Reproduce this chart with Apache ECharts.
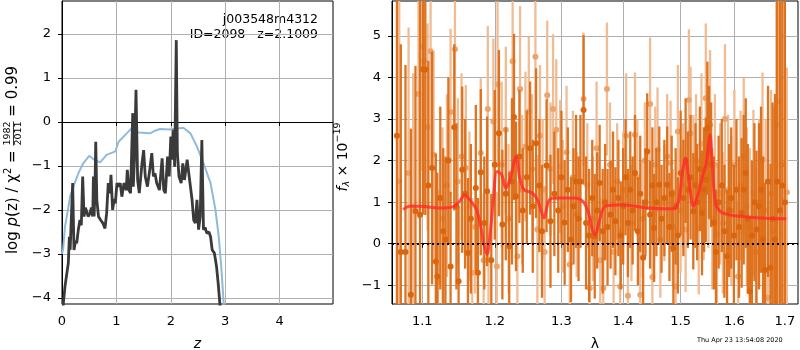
<!DOCTYPE html>
<html>
<head>
<meta charset="utf-8">
<script src="https://cdn.jsdelivr.net/npm/echarts@6/dist/echarts.min.js"></script>
<style>
  html, body { margin: 0; padding: 0; background: #fff; }
  #main { width: 800px; height: 350px; }
</style>
</head>
<body>
<div id="main"></div>
<script>
// ---- left panel: log p(z) ----
var zDark = [0.01, 0.025, 0.055, 0.116, 0.135, 0.15, 0.196, 0.22, 0.25, 0.27, 0.30, 0.33, 0.355, 0.38, 0.405, 0.43, 0.455, 0.48, 0.515, 0.54, 0.565, 0.577, 0.59, 0.605, 0.62, 0.64, 0.67, 0.71, 0.75, 0.79, 0.82, 0.85, 0.88, 0.90, 0.93, 0.96, 0.98, 1.01, 1.04, 1.07, 1.10, 1.14, 1.18, 1.20, 1.23, 1.26, 1.30, 1.31, 1.33, 1.36, 1.39, 1.42, 1.47, 1.50, 1.53, 1.57, 1.62, 1.65, 1.68, 1.71, 1.74, 1.79, 1.84, 1.87, 1.90, 1.94, 1.97, 2.00, 2.02, 2.05, 2.07, 2.10, 2.12, 2.15, 2.19, 2.22, 2.25, 2.30, 2.33, 2.36, 2.39, 2.42, 2.45, 2.48, 2.51, 2.54, 2.57, 2.60, 2.63, 2.66, 2.70, 2.73, 2.76, 2.80, 2.84, 2.87, 2.90, 2.93];
var pDark = [-4.4, -4.12, -3.74, -3.21, -2.61, -2.91, -1.39, -2.91, -2.7, -2.76, -2.45, -2.23, -2.35, -1.24, -2.15, -1.95, -2.04, -2.15, -2.08, -1.95, -2.15, -1.24, -2.15, -1.6, -0.45, -1.77, -2.15, -2.23, -2.3, -2.42, -2.08, -1.39, -1.62, -1.2, -2.0, -1.75, -1.85, -1.39, -1.47, -1.39, -1.70, -1.39, -1.55, -1.09, -1.55, -1.62, 0.20, -1.47, -0.88, 0.73, -1.32, -1.62, -0.94, -0.64, -1.24, -1.47, -1.02, -0.71, -1.24, -1.17, -1.39, -1.55, -0.83, -1.55, -1.62, -0.79, -1.24, -0.33, -0.86, -0.18, -1.02, 1.86, -0.71, -1.24, -1.39, -0.94, -1.32, -0.86, -1.17, -1.17, -1.77, -2.23, -2.30, -1.77, -2.45, -2.15, -0.41, -2.45, -2.4, -2.53, -2.5, -2.61, -2.91, -2.98, -3.29, -3.67, -4.12, -4.6];
var zBlue = [0.0, 0.02, 0.055, 0.12, 0.147, 0.21, 0.30, 0.39, 0.50, 0.58, 0.70, 0.82, 0.98, 1.04, 1.19, 1.28, 1.41, 1.62, 1.71, 1.80, 1.99, 2.23, 2.36, 2.48, 2.60, 2.73, 2.82, 2.88, 2.93, 2.97, 2.99];
var pBlue = [-3.0, -2.9, -2.38, -1.92, -1.70, -1.47, -1.17, -0.94, -0.77, -0.85, -0.92, -0.75, -0.67, -0.45, -0.26, -0.14, -0.24, -0.26, -0.20, -0.16, -0.17, -0.13, -0.26, -0.56, -0.94, -1.39, -2.0, -2.6, -3.36, -4.1, -4.5];
var zTicks = [0, 1, 2, 3, 4];
var pTicks = [-4, -3, -2, -1, 0, 1, 2];

// ---- right panel: spectrum ----
var lamTicks = [1.1, 1.2, 1.3, 1.4, 1.5, 1.6, 1.7];
var fTicks = [-1, 0, 1, 2, 3, 4, 5];

var lamD = [1.067, 1.072, 1.078, 1.085, 1.091, 1.097, 1.101, 1.104, 1.108, 1.113, 1.118, 1.12, 1.124, 1.128, 1.131, 1.135, 1.138, 1.143, 1.146, 1.149, 1.154, 1.158, 1.162, 1.166, 1.173, 1.176, 1.18, 1.185, 1.189, 1.195, 1.2, 1.206, 1.211, 1.216, 1.221, 1.225, 1.228, 1.231, 1.236, 1.241, 1.247, 1.252, 1.256, 1.261, 1.266, 1.27, 1.277, 1.283, 1.289, 1.295, 1.3, 1.305, 1.31, 1.315, 1.319, 1.323, 1.327, 1.33, 1.335, 1.339, 1.344, 1.349, 1.353, 1.357, 1.361, 1.366, 1.37, 1.374, 1.379, 1.383, 1.387, 1.392, 1.396, 1.4, 1.404, 1.408, 1.412, 1.416, 1.42, 1.425, 1.429, 1.434, 1.438, 1.441, 1.446, 1.45, 1.453, 1.457, 1.462, 1.466, 1.471, 1.476, 1.48, 1.484, 1.487, 1.491, 1.495, 1.5, 1.505, 1.509, 1.513, 1.518, 1.523, 1.527, 1.53, 1.535, 1.539, 1.543, 1.546, 1.549, 1.552, 1.556, 1.561, 1.565, 1.57, 1.576, 1.581, 1.586, 1.59, 1.594, 1.599, 1.604, 1.609, 1.614, 1.618, 1.622, 1.626, 1.63, 1.634, 1.639, 1.643, 1.648, 1.652, 1.656, 1.66, 1.666, 1.671, 1.675, 1.68, 1.684, 1.69, 1.695, 1.7];
var fluxD = [2.6, -0.2, -0.2, -1.23, 0.78, 0.7, 4.2, 4.19, 1.4, 1.82, -0.43, -0.79, 1.1, 0.3, 0.1, 2.0, -0.55, 2.8, 0.9, -0.9, 1.78, 1.2, -0.22, 0.6, 1.34, -0.7, 1.72, 0.5, 1.26, -0.4, 1.9, 2.66, 0.46, 1.2, -0.06, 1.5, 3.05, 1.14, 2.1, 0.8, 1.6, 2.3, 0.9, 2.42, 1.4, 0.3, 1.88, 0.54, 1.2, 0.8, 1.6, 0.51, 1.3, 0.1, 0.9, 1.5, 0.6, 1.5, 3.22, 0.5, 0.2, 1.1, 0.18, 0.8, 1.46, 0.3, 1.0, 0.4, 0.7, 1.3, 0.54, 1.1, 0.2, 0.9, 1.6, 0.5, 1.3, 0.8, 1.7, 0.3, 1.2, -0.34, 1.0, 2.22, 0.7, 1.4, 0.38, 1.0, 1.42, 0.6, 1.1, 1.42, 0.4, 1.2, -0.1, 0.9, 0.2, 1.7, 1.1, 2.0, 1.3, 1.6, 0.78, 1.4, 1.0, 1.8, 0.74, 1.3, 1.54, 2.78, 2.2, 1.9, 0.5, -0.2, 1.0, 1.4, 0.3, -0.3, 0.8, 1.1, 0.2, 1.3, 0.4, 0.74, 1.3, 1.7, 0.6, -1.15, 0.2, 1.0, 0.34, 0.9, 1.3, 0.1, -0.63, 1.5, -0.58, 0.6, 0.1, 1.5, 0.8, 1.4, 1.0];
var errD = [5, 5, 4.5, 4, 3.5, 6, 3.5, 3.5, 3, 2.8, 2.6, 2.5, 2.2, 2, 2, 2, 1.8, 2, 2, 1.8, 2, 1.8, 1.8, 1.8, 2, 1.8, 2, 1.6, 1.8, 1.6, 1.8, 2, 1.8, 1.6, 1.8, 2, 2, 1.8, 1.6, 1.5, 1.6, 1.6, 1.6, 1.8, 1.6, 1.6, 1.6, 1.6, 1.5, 1.5, 1.6, 1.5, 1.5, 1.5, 1.4, 1.6, 1.5, 1.6, 1.8, 1.6, 1.6, 1.4, 1.5, 1.4, 1.4, 1.5, 1.4, 1.4, 1.3, 1.4, 1.3, 1.4, 1.3, 1.4, 1.4, 1.3, 1.4, 1.3, 1.4, 1.3, 1.4, 1.4, 1.3, 1.4, 1.3, 1.4, 1.3, 1.3, 1.4, 1.3, 1.4, 1.4, 1.3, 1.4, 1.4, 1.4, 1.4, 1.5, 1.4, 1.5, 1.4, 1.5, 1.4, 1.5, 1.4, 1.5, 1.5, 1.5, 1.5, 1.6, 1.6, 1.5, 1.6, 1.5, 1.6, 1.6, 1.6, 1.6, 1.6, 1.7, 1.7, 1.7, 1.7, 1.8, 1.8, 1.8, 1.8, 1.8, 1.8, 1.9, 1.9, 2, 2, 2, 2.1, 2.3, 2.5, 2.8, 3.5, 6, 7, 6, 7];

var lamL = [1.07, 1.082, 1.088, 1.095, 1.1, 1.102, 1.107, 1.111, 1.115, 1.121, 1.127, 1.133, 1.138, 1.144, 1.148, 1.153, 1.159, 1.164, 1.168, 1.172, 1.18, 1.184, 1.19, 1.191, 1.198, 1.203, 1.204, 1.21, 1.216, 1.22, 1.226, 1.233, 1.237, 1.24, 1.245, 1.25, 1.255, 1.26, 1.263, 1.267, 1.271, 1.274, 1.278, 1.283, 1.287, 1.292, 1.298, 1.302, 1.308, 1.313, 1.318, 1.324, 1.335, 1.341, 1.345, 1.35, 1.356, 1.362, 1.367, 1.373, 1.378, 1.384, 1.39, 1.395, 1.4, 1.405, 1.408, 1.414, 1.42, 1.424, 1.429, 1.433, 1.437, 1.446, 1.45, 1.455, 1.459, 1.464, 1.471, 1.476, 1.482, 1.486, 1.491, 1.495, 1.5, 1.504, 1.509, 1.515, 1.518, 1.523, 1.528, 1.533, 1.538, 1.542, 1.546, 1.551, 1.554, 1.558, 1.563, 1.567, 1.573, 1.578, 1.582, 1.588, 1.594, 1.6, 1.607, 1.612, 1.618, 1.624, 1.63, 1.637, 1.642, 1.648, 1.655, 1.661, 1.666, 1.672, 1.678, 1.683, 1.688, 1.693, 1.704];
var fluxL = [1.5, 1.7, 0.9, 3.6, 4.75, 4.4, 2.8, 4.63, 2.14, -0.9, 0.6, 1.4, 3.17, 4.68, 1.5, 2.1, 1.82, 0.9, -0.7, 0.4, 2.18, -0.4, 3.24, -0.38, 2.94, -0.55, 3.83, 1.9, 2.74, 0.6, 4.39, -0.3, 3.72, 1.3, 2.34, 3.18, 1.8, 4.5, 0.34, 2.6, 1.3, -0.2, 3.57, 1.8, 3.24, 2.74, 1.86, 0.9, 2.2, -0.5, 1.6, 0.7, 3.48, 1.4, -1.07, 0.6, 2.3, -0.4, -1.07, 3.72, 1.9, -0.2, 1.5, -1.03, 1.3, 2.6, -1.25, 0.5, 2.62, 1.6, -1.23, 0.6, 2.0, 3.36, -0.8, 1.9, 2.26, 0.1, 0.98, 2.1, 1.94, 0.4, -1.03, 2.7, 0.8, 1.4, 0.34, 3.46, 2.66, 1.5, 2.0, 0.38, 2.4, 1.2, 3.5, 1.6, 2.86, 0.6, 1.9, 0.22, 1.2, 0.5, 3.0, 1.3, 0.8, 1.9, -0.79, 1.4, 2.1, 0.9, 0.4, 1.22, -0.2, 1.0, 2.02, 0.8, -1.3, 1.2, 0.3, 2.86, 3.42, 1.9, 1.24];
var errL = [4.5, 3.5, 3.2, 3, 3, 3.5, 2.5, 2.8, 2.5, 2.2, 2.2, 2.2, 2, 2.2, 2, 2, 2, 1.8, 1.8, 1.6, 1.8, 1.6, 2, 1.6, 2, 1.8, 2, 2, 2, 1.8, 2, 1.8, 2, 1.8, 1.8, 1.8, 1.8, 2, 1.8, 1.7, 1.7, 1.6, 1.8, 1.6, 1.8, 1.7, 1.6, 1.6, 1.6, 1.6, 1.6, 1.5, 1.6, 1.5, 1.5, 1.5, 1.6, 1.5, 1.5, 1.6, 1.5, 1.4, 1.4, 1.4, 1.4, 1.5, 1.4, 1.4, 1.5, 1.4, 1.4, 1.4, 1.4, 1.6, 1.4, 1.4, 1.5, 1.4, 1.4, 1.5, 1.5, 1.4, 1.4, 1.6, 1.5, 1.5, 1.5, 1.7, 1.6, 1.6, 1.6, 1.6, 1.7, 1.6, 1.8, 1.7, 1.8, 1.7, 1.7, 1.7, 1.7, 1.7, 1.8, 1.8, 1.8, 1.8, 1.8, 1.8, 1.9, 1.9, 1.9, 2, 2, 2, 2.1, 2.2, 2.3, 2.5, 3, 4, 5, 6, 3];

var lamModel = [1.075, 1.083, 1.097, 1.124, 1.143, 1.152, 1.157, 1.166, 1.174, 1.18, 1.184, 1.189, 1.193, 1.198, 1.203, 1.21, 1.216, 1.222, 1.231, 1.237, 1.243, 1.255, 1.263, 1.268, 1.273, 1.28, 1.288, 1.32, 1.334, 1.343, 1.349, 1.354, 1.361, 1.37, 1.4, 1.441, 1.488, 1.497, 1.503, 1.509, 1.515, 1.523, 1.53, 1.539, 1.547, 1.554, 1.558, 1.564, 1.573, 1.588, 1.61, 1.65, 1.703];
var fluxModel = [0.82, 0.9, 0.9, 0.86, 0.9, 1.06, 1.18, 1.02, 0.82, 0.42, 0.02, -0.26, 0.18, 1.06, 1.74, 1.66, 1.34, 1.54, 2.1, 1.54, 1.3, 1.22, 1.06, 0.82, 0.62, 1.02, 1.1, 1.1, 1.02, 0.74, 0.34, 0.22, 0.58, 0.9, 0.94, 0.86, 0.84, 1.06, 1.7, 2.06, 1.54, 0.9, 1.1, 1.58, 1.94, 2.62, 1.94, 0.98, 0.78, 0.7, 0.66, 0.62, 0.6];

function zip(a, b) {
  var out = [];
  for (var i = 0; i < a.length; i++) out.push([a[i], b[i]]);
  return out;
}
function zip3(a, b, c) {
  var out = [];
  for (var i = 0; i < a.length; i++) out.push([a[i], b[i], c[i]]);
  return out;
}
function minusFmt(v) {
  return v < 0 ? '\u2212' + Math.abs(v) : String(v);
}

var F_MIN = -1.45, F_MAX = 5.84;
var LAM_MIN = 1.0607, LAM_MAX = 1.727;

function errBar(color, opacity) {
  return function (params, api) {
    var x = api.value(0), y = api.value(1), e = api.value(2);
    var lo = Math.max(y - e, F_MIN), hi = Math.min(y + e, F_MAX);
    var p1 = api.coord([x, lo]);
    var p2 = api.coord([x, hi]);
    return {
      type: 'line',
      shape: { x1: p1[0], y1: p1[1], x2: p2[0], y2: p2[1] },
      style: { stroke: color, lineWidth: 2.3, opacity: opacity }
    };
  };
}

// rotated labels built from pieces (mathtext-like)
var measureCtx = document.createElement('canvas').getContext('2d');
function rotLabel(cx, cy, pieces) {
  var total = 0;
  pieces.forEach(function (p) {
    measureCtx.font = (p.italic ? 'italic ' : '') + p.size + 'px "DejaVu Sans"';
    p.w = measureCtx.measureText(p.t).width;
    total += p.w;
  });
  var x = -total / 2, children = [];
  pieces.forEach(function (p) {
    if (p.frac) {
      children.push({ type: 'text', x: x + p.w / 2, y: -5, style: { text: p.t, fontSize: p.size, fontFamily: 'DejaVu Sans', fill: '#000', align: 'center', verticalAlign: 'middle' } });
      children.push({ type: 'text', x: x + p.w / 2, y: 5.5, style: { text: p.t2, fontSize: p.size, fontFamily: 'DejaVu Sans', fill: '#000', align: 'center', verticalAlign: 'middle' } });
      children.push({ type: 'line', shape: { x1: x, y1: 0.5, x2: x + p.w, y2: 0.5 }, style: { stroke: '#000', lineWidth: 0.8 } });
    } else {
      children.push({ type: 'text', x: x, y: p.dy || 0, style: { text: p.t, fontSize: p.size, fontStyle: p.italic ? 'italic' : 'normal', fontFamily: 'DejaVu Sans', fill: '#000', align: 'left', verticalAlign: 'middle' } });
    }
    x += p.w;
  });
  return { type: 'group', x: cx, y: cy, rotation: Math.PI / 2, children: children };
}

var myChart = echarts.init(document.getElementById('main'));
var axisFont = { fontFamily: 'DejaVu Sans', fontSize: 13, color: '#000' };
var gridLine = { show: true, lineStyle: { color: '#b0b0b0', width: 1 } };
var tick = { show: true, length: 4, lineStyle: { color: '#000' } };

var option = {
  animation: false,
  backgroundColor: '#fff',
  grid: [
    { left: 62, top: 1, width: 271, height: 303, show: true, borderColor: '#000', borderWidth: 1, outerBoundsMode: 'none', containLabel: false },
    { left: 392, top: 1, width: 406, height: 303, show: true, borderColor: '#000', borderWidth: 1, outerBoundsMode: 'none', containLabel: false }
  ],
  xAxis: [{
    gridIndex: 0, type: 'value', min: 0, max: 4.98,
    name: 'z', nameLocation: 'middle', nameGap: 33,
    nameTextStyle: { fontFamily: 'DejaVu Sans', fontSize: 14, fontStyle: 'italic', color: '#000' },
    axisLine: { lineStyle: { color: '#000' } },
    axisTick: Object.assign({ customValues: zTicks }, tick),
    axisLabel: Object.assign({ customValues: zTicks, margin: 11, formatter: minusFmt }, axisFont),
    splitLine: gridLine
  }, {
    gridIndex: 1, type: 'log', logBase: 10, min: LAM_MIN, max: LAM_MAX,
    name: '\u03bb', nameLocation: 'middle', nameGap: 33,
    nameTextStyle: { fontFamily: 'DejaVu Sans', fontSize: 14, color: '#000' },
    axisLine: { lineStyle: { color: '#000' } },
    axisTick: Object.assign({ customValues: lamTicks }, tick),
    axisLabel: Object.assign({ customValues: lamTicks, margin: 11, formatter: function (v) { return (+v).toFixed(1); } }, axisFont),
    splitLine: gridLine
  }],
  yAxis: [{
    gridIndex: 0, type: 'value', min: -4.14, max: 2.75,
    axisLine: { lineStyle: { color: '#000' } },
    axisTick: Object.assign({ customValues: pTicks }, tick),
    axisLabel: Object.assign({ customValues: pTicks, margin: 11, formatter: minusFmt }, axisFont),
    splitLine: gridLine
  }, {
    gridIndex: 1, type: 'value', min: F_MIN, max: F_MAX,
    axisLine: { lineStyle: { color: '#000' } },
    axisTick: Object.assign({ customValues: fTicks }, tick),
    axisLabel: Object.assign({ customValues: fTicks, margin: 11, formatter: minusFmt }, axisFont),
    splitLine: gridLine
  }],
  series: [{
    type: 'line', xAxisIndex: 0, yAxisIndex: 0, data: zip(zBlue, pBlue),
    showSymbol: false, lineStyle: { color: '#8fbbd9', width: 2 }, z: 2
  }, {
    type: 'line', xAxisIndex: 0, yAxisIndex: 0, data: zip(zDark, pDark),
    showSymbol: false, lineStyle: { color: '#3a3a3a', width: 2.8 }, z: 3
  }, {
    type: 'custom', xAxisIndex: 1, yAxisIndex: 1, data: zip3(lamL, fluxL, errL),
    renderItem: errBar('#f0bc93', 1), clip: true, z: 2
  }, {
    type: 'scatter', xAxisIndex: 1, yAxisIndex: 1, data: zip(lamL, fluxL),
    symbolSize: 6, itemStyle: { color: '#eba46b', opacity: 1 }, z: 2
  }, {
    type: 'custom', xAxisIndex: 1, yAxisIndex: 1, data: zip3(lamD, fluxD, errD),
    renderItem: errBar('#dc6d16', 0.95), clip: true, z: 3
  }, {
    type: 'scatter', xAxisIndex: 1, yAxisIndex: 1, data: zip(lamD, fluxD),
    symbolSize: 6, itemStyle: { color: '#d9660e', opacity: 1 }, z: 3
  }, {
    type: 'line', xAxisIndex: 1, yAxisIndex: 1, data: zip(lamModel, fluxModel),
    showSymbol: false, smooth: 0.3, lineStyle: { color: '#ff2a2a', width: 3, opacity: 0.8 }, z: 4,
    markLine: {
      silent: true, symbol: 'none', label: { show: false },
      lineStyle: { color: '#000', type: [2, 3], width: 2, opacity: 1 },
      data: [{ yAxis: 0 }]
    }
  }],
  graphic: [
    { type: 'text', right: 482, top: 13, style: { text: 'j003548m4312', fontSize: 12.5, fontFamily: 'DejaVu Sans', fill: '#000' } },
    { type: 'text', right: 482, top: 28, style: { text: 'ID=2098   z=2.1009', fontSize: 12.5, fontFamily: 'DejaVu Sans', fill: '#000' } },
    { type: 'text', left: 697, top: 337, style: { text: 'Thu Apr 23 13:54:08 2020', fontSize: 6.5, fontFamily: 'DejaVu Sans', fill: '#000' } },
    rotLabel(13, 160, [
      { t: 'log ', size: 15 },
      { t: 'p', size: 15, italic: true },
      { t: '(z) / \u03c7', size: 15 },
      { t: '2', size: 10, dy: -5 },
      { t: ' = ', size: 15 },
      { t: '1982', t2: '2011', size: 9.5, frac: true },
      { t: ' = 0.99', size: 15 }
    ]),
    rotLabel(343, 157, [
      { t: 'f', size: 14, italic: true },
      { t: '\u03bb', size: 9.5, italic: true, dy: 4 },
      { t: ' \u00d7 10', size: 14 },
      { t: '\u221219', size: 9.5, dy: -5 }
    ])
  ]
};
myChart.setOption(option);
</script>
</body>
</html>
